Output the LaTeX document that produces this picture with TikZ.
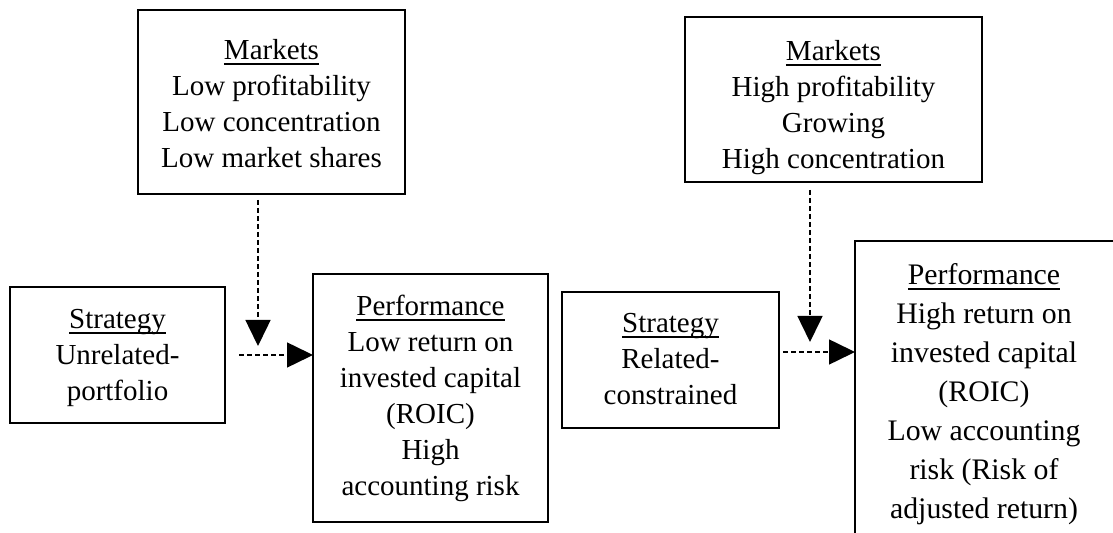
\documentclass[tikz,border=0pt]{standalone}
\usepackage{fontspec}
\setmainfont{Liberation Serif}
\usetikzlibrary{arrows.meta}
\newcommand\hdr[1]{\setbox0=\hbox{#1}\rlap{\rule[-2.6pt]{\wd0}{0.9pt}}\box0}

\begin{document}
\begin{tikzpicture}[x=0.5pt,y=-0.5pt,
  box/.style={draw,line width=1.4pt,rectangle,inner sep=0,outer sep=0},
  txt/.style={align=center,inner sep=0,anchor=north,font=\fontsize{14.5}{18}\selectfont},
  link/.style={line width=0.75pt,dash pattern=on 2.4pt off 1.6pt,-{Triangle[length=13pt,width=12.5pt]}}]
\useasboundingbox (0,0) rectangle (1113,533);
\clip (0,0) rectangle (1113,533);

% unrelated-portfolio side
\node[box,minimum width=133.5pt,minimum height=92pt] (mktL) at (271.5,102) {};
\node[txt] (mktLtxt) at (271.5,39) {\hdr{Markets}\\Low profitability\\Low concentration\\Low market shares};
\node[box,minimum width=107.5pt,minimum height=68pt] (stratL) at (117.5,355) {};
\node[txt] (stratLtxt) at (117.5,309) {\hdr{Strategy}\\Unrelated-\\portfolio};
\node[box,minimum width=117.5pt,minimum height=124pt] (perfL) at (430.5,398) {};
\node[txt] (perfLtxt) at (430.5,295) {\hdr{Performance}\\Low return on\\invested capital\\(ROIC)\\High\\accounting risk};

% related-constrained side
\node[box,minimum width=148.5pt,minimum height=82.5pt] (mktR) at (833.5,99.5) {};
\node[txt] (mktRtxt) at (833.5,40) {\hdr{Markets}\\High profitability\\Growing\\High concentration};
\node[box,minimum width=108.5pt,minimum height=68pt] (stratR) at (670.5,360) {};
\node[txt] (stratRtxt) at (670.5,313) {\hdr{Strategy}\\Related-\\constrained};
\node[box,minimum width=130.5pt,minimum height=159.5pt] (perfR) at (985.5,400.5) {};
\node[txt,font=\fontsize{14.9}{19.5}\selectfont] (perfRtxt) at (984,263) {\hdr{Performance}\\High return on\\invested capital\\(ROIC)\\Low accounting\\risk (Risk of\\adjusted return)};

\coordinate (tipL) at (258,346);
\coordinate (fromL) at (239,355);
\coordinate (tipR) at (810,342);
\coordinate (fromR) at (783,352);

\draw[link,shorten <=3pt] (mktL.south -| tipL) -- (tipL);
\draw[link] (fromL) -- (fromL -| perfL.west);
\draw[link,shorten <=4pt] (mktR.south -| tipR) -- (tipR);
\draw[link] (fromR) -- (fromR -| perfR.west);
\end{tikzpicture}
\end{document}
